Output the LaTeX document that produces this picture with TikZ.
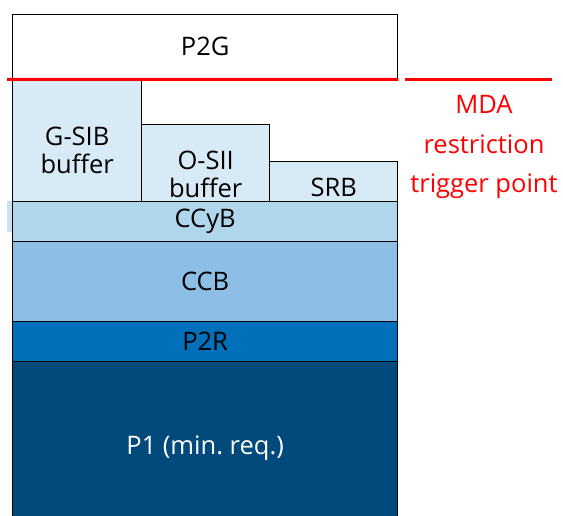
\documentclass[tikz,border=0pt]{standalone}
\usepackage{fontspec}
\setmainfont{Open Sans}
\usetikzlibrary{positioning}
\definecolor{bufferblue}{HTML}{D7EAF6}
\definecolor{ccybblue}{HTML}{AFD6EA}
\definecolor{ccbblue}{HTML}{8CBEE6}
\definecolor{ptworblue}{HTML}{0070BB}
\definecolor{ponenavy}{HTML}{014A7B}
\definecolor{mdared}{HTML}{FF0000}

\begin{document}
\begin{tikzpicture}[
  x=1pt, y=-1pt,
  layer/.style={draw, line width=1.3pt, anchor=north west, inner sep=0pt, align=center,
    font=\fontsize{25.5}{28}\selectfont},
  buffer/.style={layer, fill=bufferblue},
  inlabel/.style={align=center, font=\fontsize{25.5}{28}\selectfont, yshift=-9pt},
  trigger/.style={mdared, line width=3pt}
]
\useasboundingbox (0,0) rectangle (563,516);

% faint backdrop behind the CCyB band
\fill[ccybblue!70] (7,201) rectangle (12,232);

% capital stack, bottom to top
\node[layer, fill=ponenavy, text=white, minimum width=385pt, minimum height=174pt] (p1) at (12,361) {P1 (min.\ req.)};
\node[layer, fill=ptworblue, minimum width=385pt, minimum height=40pt] (p2r) at (12,321) {P2R};
\node[layer, fill=ccbblue, minimum width=385pt, minimum height=80pt] (ccb) at (12,241) {CCB};
\node[layer, fill=ccybblue, minimum width=385pt, minimum height=40pt] (ccyb) at (12,201) {CCyB};

% buffers
\node[buffer, minimum width=129pt, minimum height=121pt] (gsib) at (12,80) {};
\node[buffer, minimum width=128pt, minimum height=77pt] (osii) at (141,124) {};
\node[buffer, minimum width=128pt, minimum height=40pt] (srb) at (269,161) {};
\node[inlabel] (gsibtext) at (gsib.center) {G-SIB\\buffer};
\node[inlabel, yshift=-2pt] (osiitext) at (osii.center) {O-SII\\buffer};
\node[inlabel, yshift=3pt] (srbtext) at (srb.center) {SRB};

% Pillar 2 guidance
\node[layer, fill=white, minimum width=385pt, minimum height=64pt] (p2g) at (12,14) {P2G};

% MDA trigger
\coordinate (trigl) at (7,79.5);
\coordinate (trigr) at (405,79.5);
\draw[trigger] (trigl) -- (p2g.south east);
\draw[trigger] (trigr) -- ++(147,0) coordinate (trigend);
\node[mdared, align=center, font=\fontsize{25.5}{39.5}\selectfont, anchor=north] (mda) at (484,92)
  {MDA\\restriction\\trigger point};

\end{tikzpicture}
\end{document}
